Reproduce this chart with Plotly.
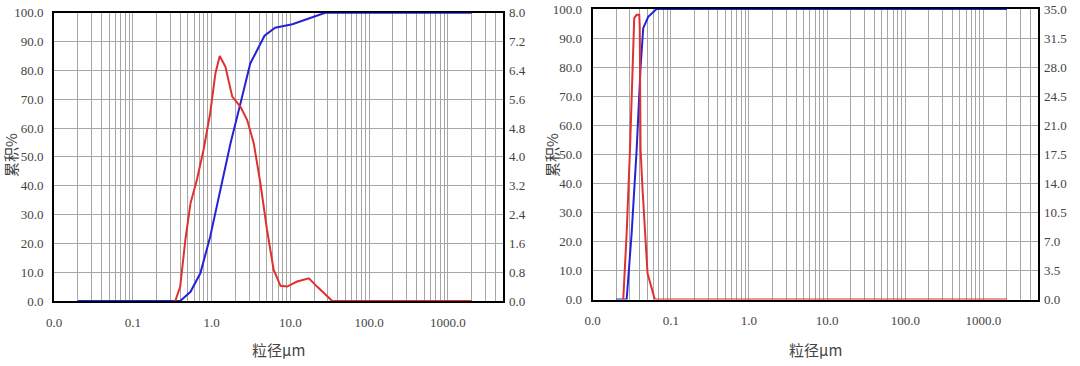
import math
import plotly.graph_objects as go

# ---------------- data ----------------
# left sample: cumulative (%) and frequency (%)
left_cum_size = [0.02, 0.40, 0.54, 0.72, 0.96, 1.29, 1.74, 2.33, 3.1, 4.7, 6.4, 10.6, 17.6, 27.7, 2000]
left_cum_val = [0, 0, 3.2, 9.6, 22.3, 38.5, 54.7, 68.6, 82.4, 92.0, 94.8, 96.0, 98.0, 100, 100]
left_freq_size = [0.346, 0.40, 0.465, 0.54, 0.65, 0.79, 0.96, 1.12, 1.27, 1.50, 1.83, 2.33, 2.83,
                  3.43, 4.17, 5.06, 6.14, 7.5, 9.1, 12.2, 17.2, 21.8, 34, 2000]
left_freq_val = [0, 0.40, 1.70, 2.71, 3.36, 4.19, 5.21, 6.32, 6.80, 6.50, 5.67, 5.39, 5.02,
                 4.38, 3.26, 1.97, 0.86, 0.42, 0.40, 0.54, 0.63, 0.40, 0, 0]

# right sample
right_cum_size = [0.02, 0.0272, 0.0315, 0.0365, 0.041, 0.0443, 0.0513, 0.0656, 2000]
right_cum_val = [0, 0, 22.8, 51.5, 80.0, 93.4, 97.3, 100, 100]
right_freq_size = [0.0246, 0.0272, 0.030, 0.0315, 0.034, 0.0365, 0.0394, 0.040, 0.041,
                   0.0435, 0.0503, 0.0624, 2000]
right_freq_val = [0, 8.0, 18.0, 24.9, 33.9, 34.3, 34.3, 32.9, 18.0, 13.2, 3.15, 0, 0]

# axis ticks
x_major = [0.01, 0.1, 1, 10, 100, 1000]
x_major_text = ["0.0", "0.1", "1.0", "10.0", "100.0", "1000.0"]
cum_ticks = [0, 10, 20, 30, 40, 50, 60, 70, 80, 90, 100]
left_freq_ticks = [0, 0.8, 1.6, 2.4, 3.2, 4.0, 4.8, 5.6, 6.4, 7.2, 8.0]
right_freq_ticks = [0, 3.5, 7.0, 10.5, 14.0, 17.5, 21.0, 24.5, 28.0, 31.5, 35.0]
x_title = "粒径μm"
y_title = "累积%"

# ---------------- build ----------------
xtv, xtt = [], []
for k in range(-2, 4):
    for m in range(1, 10):
        v = m * 10 ** k
        if v > 5000:
            break
        xtv.append(v)
        xtt.append(x_major_text[x_major.index(v)] if v in x_major else "")

W, H = 1080, 366
BLUE = "#2323d8"
RED = "#e03030"
GRID = "#a6a6a6"
TICKFONT = dict(family="Liberation Serif", size=13, color="#444")

fig = go.Figure()
fig.add_trace(go.Scatter(x=left_freq_size, y=left_freq_val, xaxis="x", yaxis="y2",
                         mode="lines", line=dict(color=RED, width=2), showlegend=False))
fig.add_trace(go.Scatter(x=left_cum_size, y=left_cum_val, xaxis="x", yaxis="y",
                         mode="lines", line=dict(color=BLUE, width=2), showlegend=False))
fig.add_trace(go.Scatter(x=right_freq_size, y=right_freq_val, xaxis="x2", yaxis="y4",
                         mode="lines", line=dict(color=RED, width=2), showlegend=False))
fig.add_trace(go.Scatter(x=right_cum_size, y=right_cum_val, xaxis="x2", yaxis="y3",
                         mode="lines", line=dict(color=BLUE, width=2), showlegend=False))

xrange = [-2, math.log10(5000)]
xcommon = dict(type="log", range=xrange, tickmode="array", tickvals=xtv, ticktext=xtt,
               showgrid=True, gridcolor=GRID, gridwidth=1, showline=True, mirror=True,
               linecolor="black", linewidth=2, ticks="", tickfont=TICKFONT,
               ticklabelstandoff=8, zeroline=False, layer="below traces", automargin=False)
ycommon = dict(tickmode="array", tickvals=cum_ticks, ticktext=[f"{v:.1f}" for v in cum_ticks],
               range=[0, 100], showgrid=True, gridcolor=GRID, gridwidth=1, showline=True,
               mirror=True, linecolor="black", linewidth=2, ticks="", tickfont=TICKFONT,
               ticklabelstandoff=6, zeroline=False, layer="below traces", automargin=False)
y2common = dict(showgrid=False, zeroline=False, showline=False, ticks="",
                tickfont=TICKFONT, ticklabelstandoff=5, automargin=False, tickmode="array")

fig.update_layout(
    width=W, height=H,
    margin=dict(l=0, r=0, t=0, b=0),
    paper_bgcolor="white", plot_bgcolor="white",
    hovermode=False,
    xaxis=dict(domain=[54 / W, 503 / W], anchor="y", **xcommon),
    yaxis=dict(domain=[1 - 301 / H, 1 - 12.7 / H], anchor="x", **ycommon),
    yaxis2=dict(overlaying="y", side="right", anchor="x", range=[0, 8],
                tickvals=left_freq_ticks, ticktext=[f"{v:.1f}" for v in left_freq_ticks],
                **y2common),
    xaxis2=dict(domain=[592.7 / W, 1038 / W], anchor="y3", **xcommon),
    yaxis3=dict(domain=[1 - 299.5 / H, 1 - 9 / H], anchor="x2", **ycommon),
    yaxis4=dict(overlaying="y3", side="right", anchor="x2", range=[0, 35],
                tickvals=right_freq_ticks, ticktext=[f"{v:.1f}" for v in right_freq_ticks],
                **y2common),
)

TITLEFONT = dict(family="Noto Sans CJK SC", size=15, color="#444")
for cx in (278.5, 815.3):
    fig.add_annotation(text=x_title, xref="paper", yref="paper", x=cx / W, y=1 - 349 / H,
                       showarrow=False, font=TITLEFONT, xanchor="center", yanchor="middle")
for cx, cy in ((10, 155), (551, 155)):
    fig.add_annotation(text=y_title, xref="paper", yref="paper", x=cx / W, y=1 - cy / H,
                       showarrow=False, font=dict(family="Noto Sans CJK SC", size=15, color="#444"),
                       textangle=-90, xanchor="center", yanchor="middle")

fig.write_html("out.html", config={"displayModeBar": False},
               post_script="document.body.style.margin='0';document.body.style.overflow='hidden';")
